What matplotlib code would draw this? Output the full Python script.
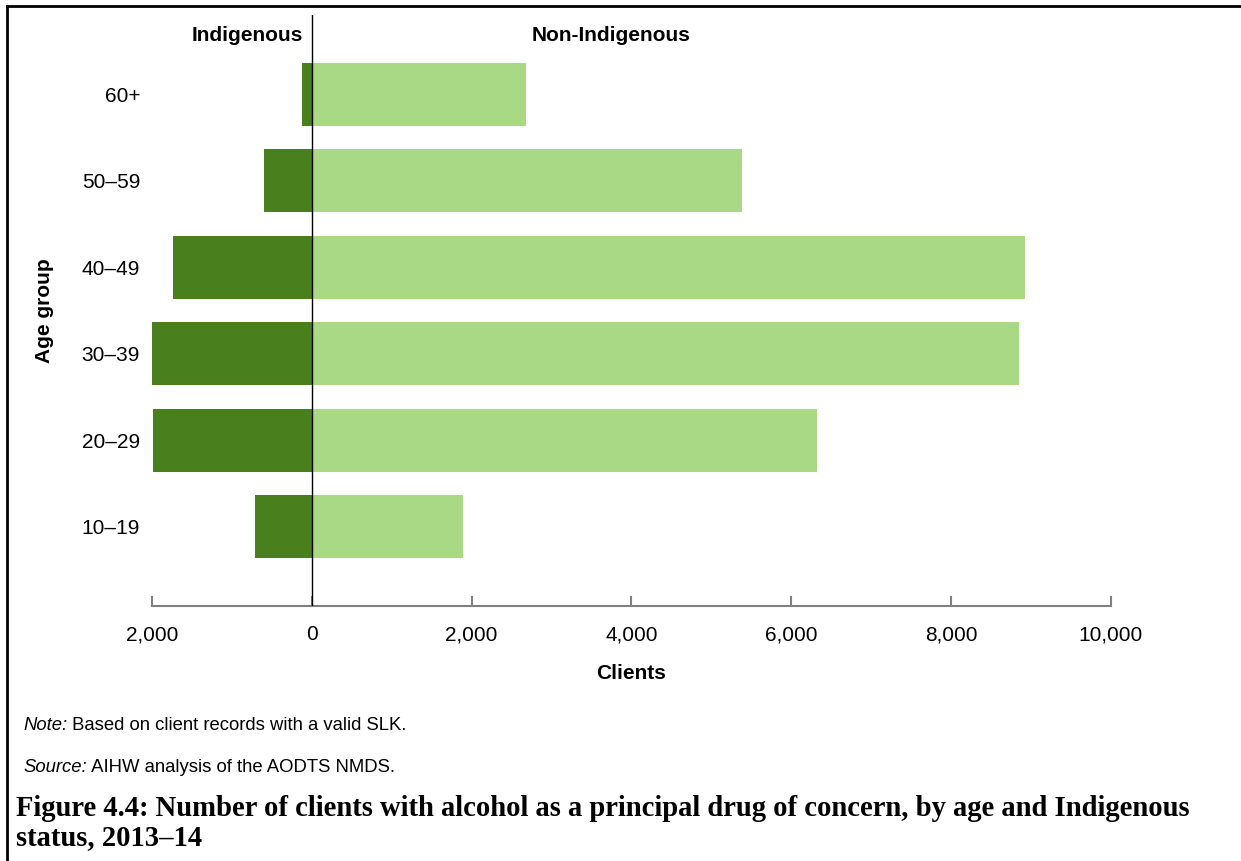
import matplotlib
matplotlib.use("Agg")
import matplotlib.pyplot as plt
from matplotlib.lines import Line2D

# dados
age_groups = ["10–19", "20–29", "30–39", "40–49", "50–59", "60+"]
indigenous = [712, 1988, 2000, 1741, 600, 125]
non_indigenous = [1888, 6321, 8850, 8925, 5379, 2679]
x_ticks = [-2000, 0, 2000, 4000, 6000, 8000, 10000]
x_tick_labels = ["2,000", "0", "2,000", "4,000", "6,000", "8,000", "10,000"]

dark_green = "#4a7f1e"
light_green = "#a9d985"

plt.rcParams["font.family"] = ["Liberation Sans", "DejaVu Sans"]

fig = plt.figure(figsize=(12.41, 8.61), dpi=100)
ax = fig.add_axes([0.1225, 0.2962, 0.7727, 0.6864])

pos = list(range(len(age_groups)))
ax.barh(pos, [-v for v in indigenous], height=0.73, color=dark_green, linewidth=0)
ax.barh(pos, non_indigenous, height=0.73, color=light_green, linewidth=0)

ax.set_xlim(-2000, 10000)
ax.set_ylim(-0.92, 5.92)
ax.axvline(0, color="black", linewidth=1, zorder=3)

ax.set_xticks(x_ticks)
ax.set_xticklabels(x_tick_labels, fontsize=15)
ax.set_yticks(pos)
ax.set_yticklabels(age_groups, fontsize=15)
ax.tick_params(axis="x", direction="in", length=7, color="#808080", width=1.5, pad=14)
ax.tick_params(axis="y", length=0, pad=8.6)

for s in ["top", "right", "left"]:
    ax.spines[s].set_visible(False)
ax.spines["bottom"].set_color("#808080")
ax.spines["bottom"].set_linewidth(1.5)

ax.set_xlabel("Clients", fontsize=15, fontweight="bold", labelpad=14)
ax.set_ylabel("Age group", fontsize=15, fontweight="bold", labelpad=20)

ax.text(-110, 0.966, "Indigenous", transform=ax.get_xaxis_transform(),
        ha="right", va="center", fontsize=15, fontweight="bold")
ax.text(3740, 0.966, "Non-Indigenous", transform=ax.get_xaxis_transform(),
        ha="center", va="center", fontsize=15, fontweight="bold")

# notas e legenda da figura
note = fig.text(23 / 1241, 1 - 726 / 861, "Note:", fontsize=13.3, style="italic", va="center")
ax.annotate(" Based on client records with a valid SLK.", xy=(1, 0), xycoords=note,
            va="bottom", ha="left", fontsize=13.3, annotation_clip=False)
source = fig.text(23 / 1241, 1 - 768 / 861, "Source:", fontsize=13.3, style="italic", va="center")
ax.annotate(" AIHW analysis of the AODTS NMDS.", xy=(1, 0), xycoords=source,
            va="bottom", ha="left", fontsize=13.3, annotation_clip=False)

fig.text(16 / 1241, 1 - 823 / 861,
         "Figure 4.4: Number of clients with alcohol as a principal drug of concern, by age and Indigenous\nstatus, 2013–14",
         fontsize=20.6, fontweight="bold", family=["Liberation Serif", "DejaVu Serif"],
         va="center", ha="left", linespacing=1.12)

# moldura
fig.add_artist(Line2D([7 / 1241, 7 / 1241], [0, 1 - 6 / 861], transform=fig.transFigure, color="black", linewidth=2))
fig.add_artist(Line2D([7 / 1241, 1], [1 - 6 / 861, 1 - 6 / 861], transform=fig.transFigure, color="black", linewidth=2))

fig.savefig("out.png", dpi=100)
